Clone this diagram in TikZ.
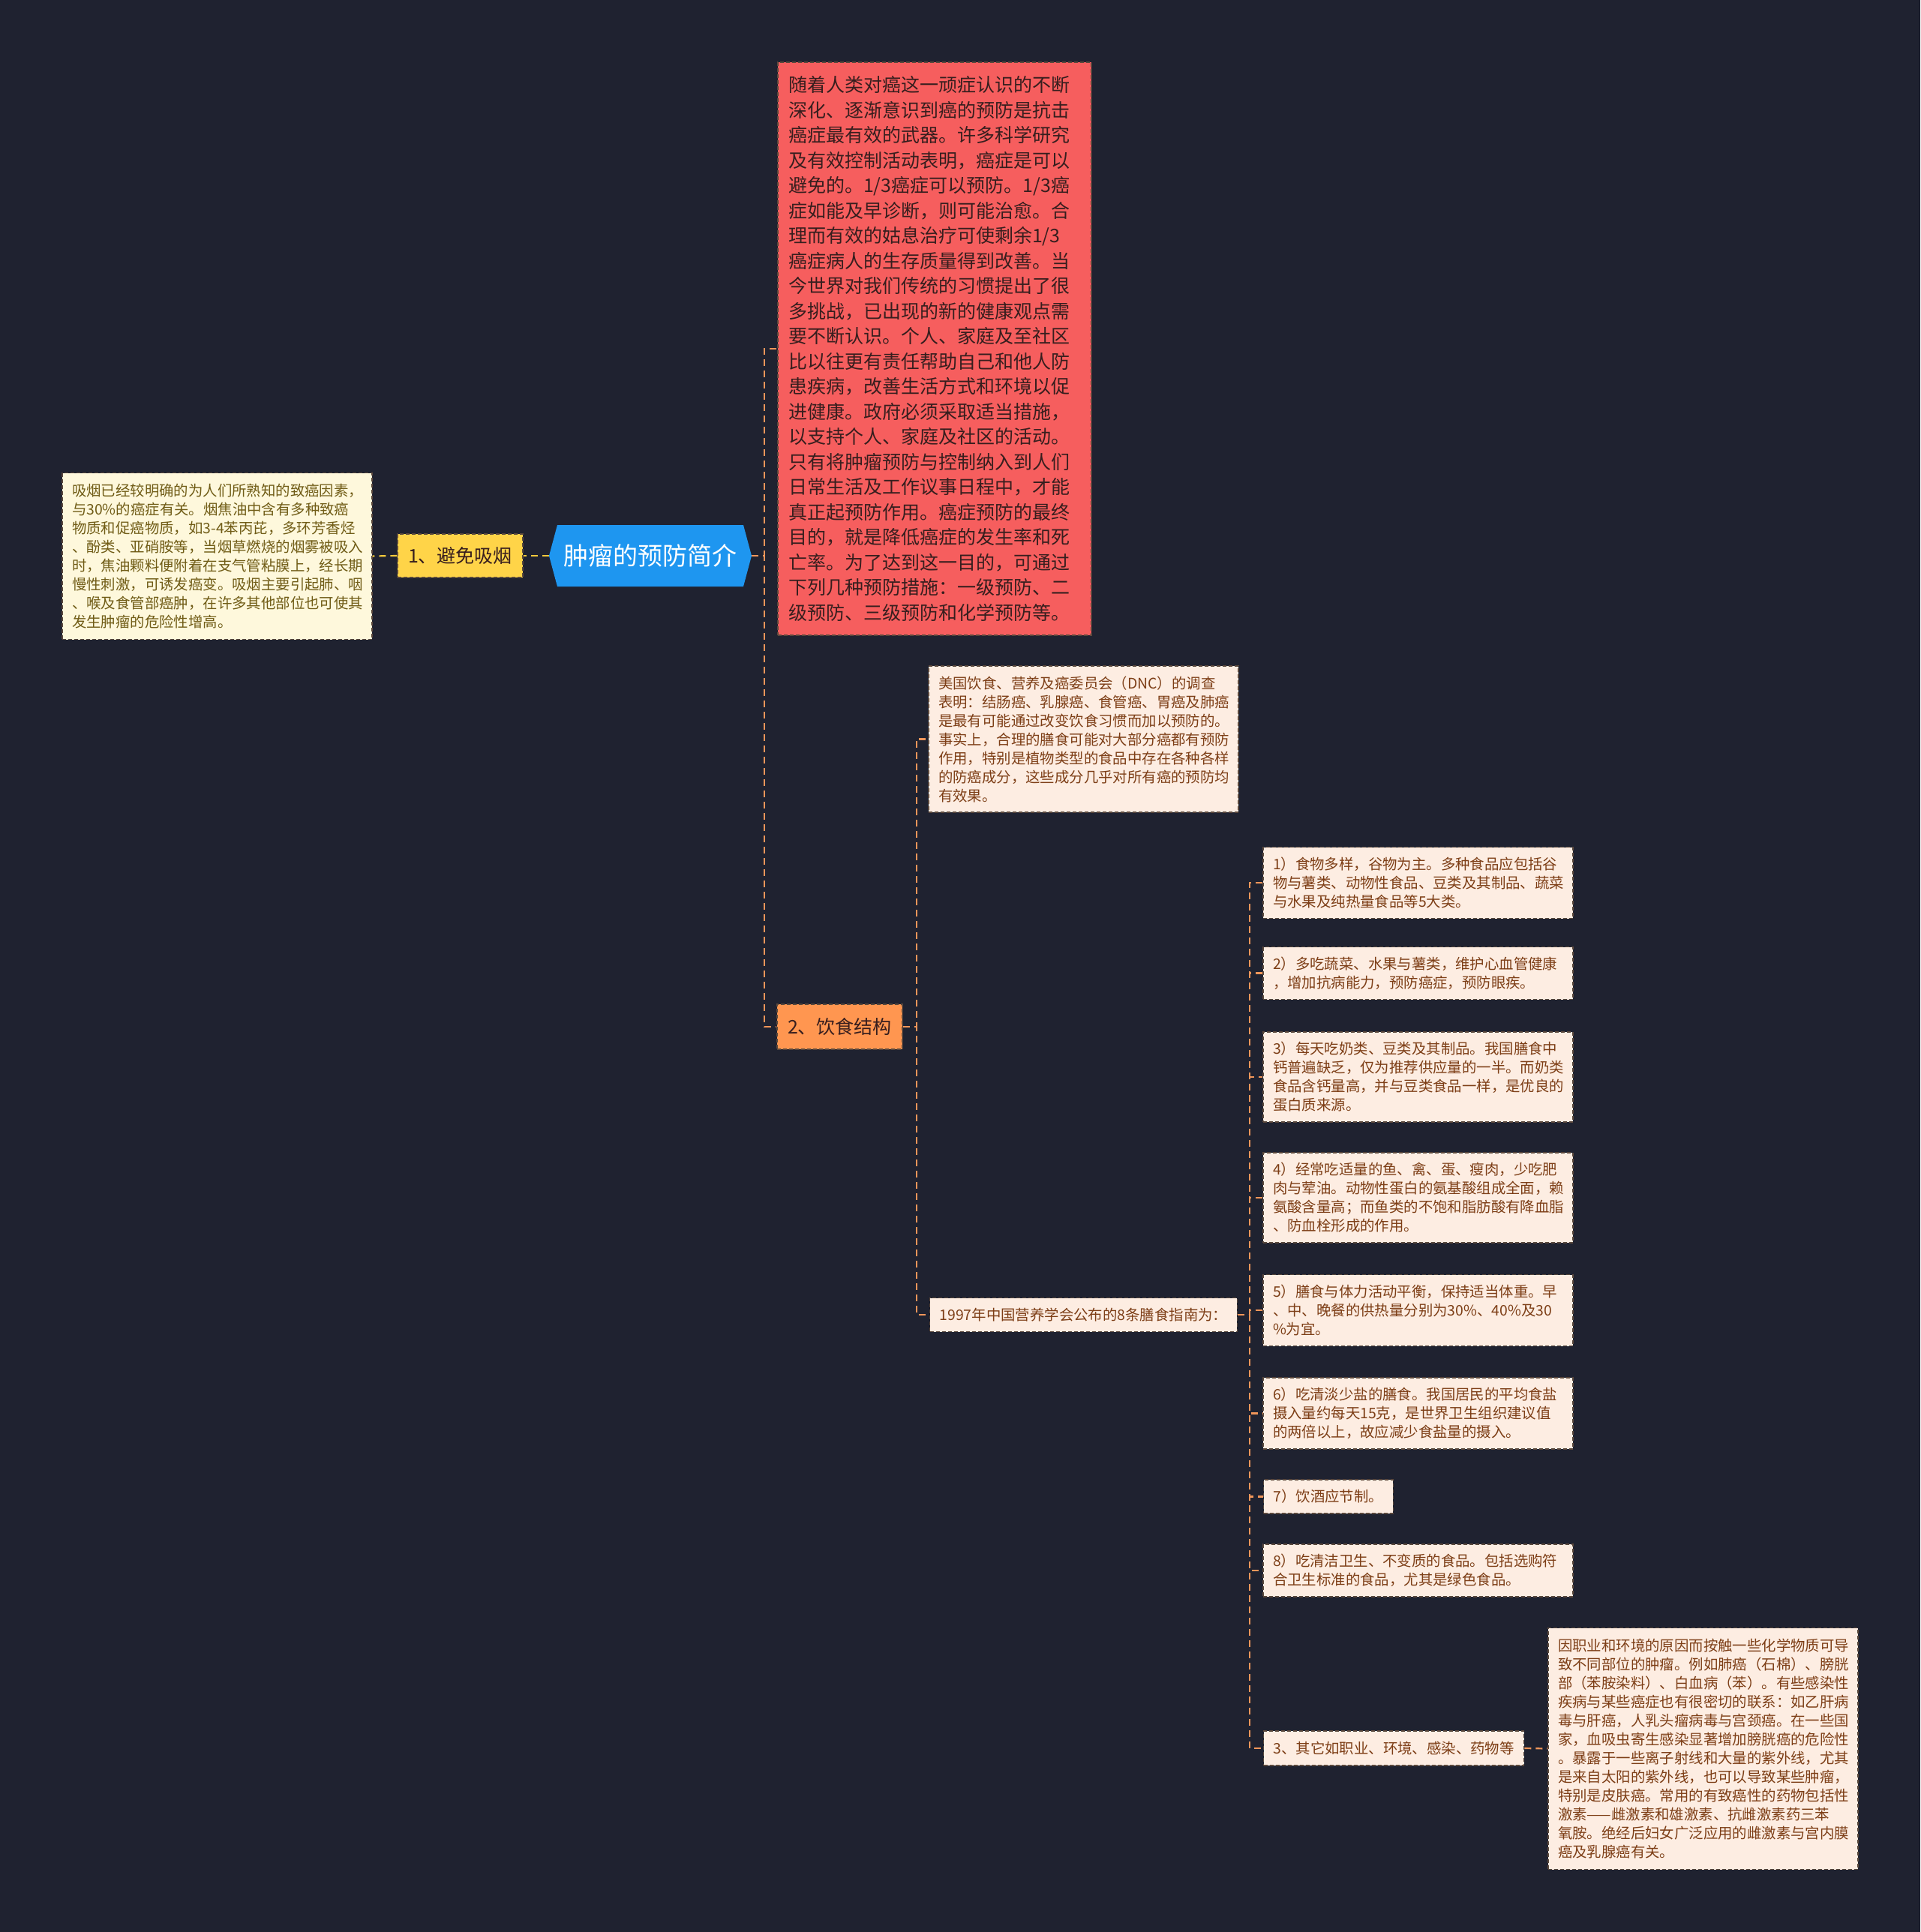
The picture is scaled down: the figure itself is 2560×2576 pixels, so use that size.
\documentclass[tikz,border=0pt]{standalone}
\usepackage{fontspec}
\setmainfont{Noto Sans CJK SC}
\definecolor{mapbg}{RGB}{31,34,48}
\definecolor{rootblue}{RGB}{30,150,240}
\definecolor{introred}{RGB}{246,94,94}
\definecolor{introtext}{RGB}{55,30,30}
\definecolor{smokegold}{RGB}{255,212,72}
\definecolor{dietorange}{RGB}{255,150,80}
\definecolor{leafpeach}{RGB}{253,237,226}
\definecolor{leafcream}{RGB}{254,248,220}
\definecolor{leafbrown}{RGB}{125,62,22}
\definecolor{leafolive}{RGB}{112,92,22}
\definecolor{boxedge}{RGB}{90,72,60}
\definecolor{linkorange}{RGB}{240,150,90}
\definecolor{linkgold}{RGB}{240,200,60}
\usetikzlibrary{shapes.symbols,positioning}

\begin{document}
\begin{tikzpicture}[x=1pt,y=-1pt,
    box/.style={draw=boxedge, line width=1.2pt, dash pattern=on 5pt off 3pt, inner xsep=13pt, inner ysep=0pt, align=left},
    tag/.style={box, fill=leafpeach, text=leafbrown, font=\fontsize{19.4}{25}\selectfont},
    leaf/.style={tag, text width=387pt},
    topic/.style={box, text=introtext, minimum width=167pt, font=\fontsize{25}{30}\selectfont},
    link/.style={draw=linkorange, line width=2.2pt, dash pattern=on 9pt off 6pt},
    goldlink/.style={link, draw=linkgold}]

    % Background
    \fill[mapbg] (0,0) rectangle (2560,2576);
    \useasboundingbox (0,0) rectangle (2560,2576);

    % Root
    \node[signal, signal to=west and east, signal pointer angle=150, fill=rootblue, text=white,
          minimum width=270pt, minimum height=82pt, inner sep=0pt,
          font=\fontsize{33}{40}\selectfont] (root) at (867,741) {肿瘤的预防简介};

    % Left branch
    \node[topic, fill=smokegold, minimum height=58pt] (avoid) at (613.5,741) {1、避免吸烟};
    \node[leaf, fill=leafcream, text=leafolive, minimum height=222pt] (smoke) at (289.5,741.5) {吸烟已经较明确的为人们所熟知的致癌因素，\\与30\%的癌症有关。烟焦油中含有多种致癌\\物质和促癌物质，如3-4苯丙芘，多环芳香烃\\、酚类、亚硝胺等，当烟草燃烧的烟雾被吸入\\时，焦油颗料便附着在支气管粘膜上，经长期\\慢性刺激，可诱发癌变。吸烟主要引起肺、咽\\、喉及食管部癌肿，在许多其他部位也可使其\\发生肿瘤的危险性增高。};

    % Right branch
    \node[box, fill=introred, text=introtext, text width=390pt, inner xsep=14pt, minimum height=764pt,
          font=\fontsize{25}{33.5}\selectfont] (intro) at (1246,465) {随着人类对癌这一顽症认识的不断\\深化、逐渐意识到癌的预防是抗击\\癌症最有效的武器。许多科学研究\\及有效控制活动表明，癌症是可以\\避免的。1/3癌症可以预防。1/3癌\\症如能及早诊断，则可能治愈。合\\理而有效的姑息治疗可使剩余1/3\\癌症病人的生存质量得到改善。当\\今世界对我们传统的习惯提出了很\\多挑战，已出现的新的健康观点需\\要不断认识。个人、家庭及至社区\\比以往更有责任帮助自己和他人防\\患疾病，改善生活方式和环境以促\\进健康。政府必须采取适当措施，\\以支持个人、家庭及社区的活动。\\只有将肿瘤预防与控制纳入到人们\\日常生活及工作议事日程中，才能\\真正起预防作用。癌症预防的最终\\目的，就是降低癌症的发生率和死\\亡率。为了达到这一目的，可通过\\下列几种预防措施：一级预防、二\\级预防、三级预防和化学预防等。};
    \node[topic, fill=dietorange, minimum height=60pt] (diet) at (1119.5,1369) {2、饮食结构};

    \node[leaf, minimum height=195pt] (dnc) at (1444.5,985.5) {美国饮食、营养及癌委员会（DNC）的调查\\表明：结肠癌、乳腺癌、食管癌、胃癌及肺癌\\是最有可能通过改变饮食习惯而加以预防的。\\事实上，合理的膳食可能对大部分癌都有预防\\作用，特别是植物类型的食品中存在各种各样\\的防癌成分，这些成分几乎对所有癌的预防均\\有效果。};
    \node[tag, anchor=west, minimum height=45pt] (guide) at (1239,1753) {1997年中国营养学会公布的8条膳食指南为：};

    % Guideline items
    \node[leaf, minimum height=95pt] (i1) at (1890.5,1177) {1）食物多样，谷物为主。多种食品应包括谷\\物与薯类、动物性食品、豆类及其制品、蔬菜\\与水果及纯热量食品等5大类。};
    \node[leaf, minimum height=70pt] (i2) at (1890.5,1297.5) {2）多吃蔬菜、水果与薯类，维护心血管健康\\，增加抗病能力，预防癌症，预防眼疾。};
    \node[leaf, minimum height=120pt] (i3) at (1890.5,1436) {3）每天吃奶类、豆类及其制品。我国膳食中\\钙普遍缺乏，仅为推荐供应量的一半。而奶类\\食品含钙量高，并与豆类食品一样，是优良的\\蛋白质来源。};
    \node[leaf, minimum height=120pt] (i4) at (1890.5,1597) {4）经常吃适量的鱼、禽、蛋、瘦肉，少吃肥\\肉与荤油。动物性蛋白的氨基酸组成全面，赖\\氨酸含量高；而鱼类的不饱和脂肪酸有降血脂\\、防血栓形成的作用。};
    \node[leaf, minimum height=95pt] (i5) at (1890.5,1747) {5）膳食与体力活动平衡，保持适当体重。早\\、中、晚餐的供热量分别为30\%、40\%及30\\\%为宜。};
    \node[leaf, minimum height=95pt] (i6) at (1890.5,1884.5) {6）吃清淡少盐的膳食。我国居民的平均食盐\\摄入量约每天15克，是世界卫生组织建议值\\的两倍以上，故应减少食盐量的摄入。};
    \node[tag, anchor=west, minimum height=45pt] (i7) at (1684,1995.5) {7）饮酒应节制。};
    \node[leaf, minimum height=70pt] (i8) at (1890.5,2094) {8）吃清洁卫生、不变质的食品。包括选购符\\合卫生标准的食品，尤其是绿色食品。};
    \node[tag, anchor=west, minimum height=46pt] (other) at (1684,2331) {3、其它如职业、环境、感染、药物等};
    \node[leaf, minimum height=322pt] (cause) at (2270.5,2331.5) {因职业和环境的原因而按触一些化学物质可导\\致不同部位的肿瘤。例如肺癌（石棉）、膀胱\\部（苯胺染料）、白血病（苯）。有些感染性\\疾病与某些癌症也有很密切的联系：如乙肝病\\毒与肝癌，人乳头瘤病毒与宫颈癌。在一些国\\家，血吸虫寄生感染显著增加膀胱癌的危险性\\。暴露于一些离子射线和大量的紫外线，尤其\\是来自太阳的紫外线，也可以导致某些肿瘤，\\特别是皮肤癌。常用的有致癌性的药物包括性\\激素——雌激素和雄激素、抗雌激素药三苯\\氧胺。绝经后妇女广泛应用的雌激素与宫内膜\\癌及乳腺癌有关。};

    % Connectors
    \draw[goldlink] (root.west) -- (avoid.east);
    \draw[goldlink] (avoid.west) -- (smoke.east);
    \draw[link] (root.east) -- ++(17,0) |- (intro.west);
    \draw[link] (root.east) -- ++(17,0) |- (diet.west);
    \draw[link] (diet.east) -- ++(18,0) |- (dnc.west);
    \draw[link] (diet.east) -- ++(18,0) |- (guide.west);
    \foreach \n in {i1,i2,i3,i4,i5,i6,i7,i8,other}
        \draw[link] (guide.east) -- ++(16,0) |- (\n.west);
    \draw[link] (other.east) -- (cause.west);
\end{tikzpicture}
\end{document}
